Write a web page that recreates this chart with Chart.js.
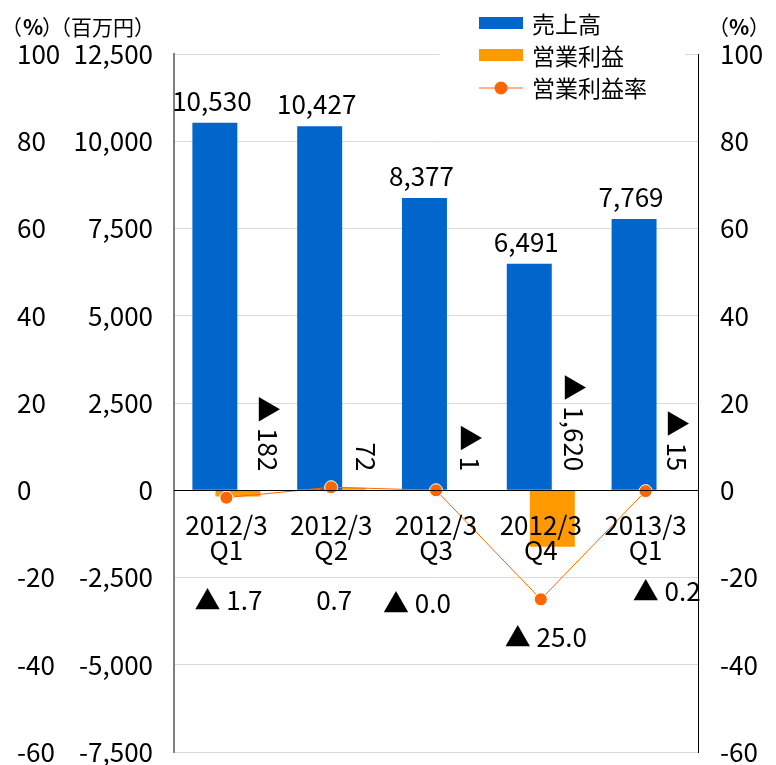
<!DOCTYPE html>
<html lang="ja">
<head>
<meta charset="utf-8">
<title>売上高・営業利益・営業利益率</title>
<script src="https://cdn.jsdelivr.net/npm/chart.js@4/dist/chart.umd.min.js"></script>
<style>
  html, body { margin: 0; padding: 0; background: #fff; }
  #wrap { width: 776px; height: 765px; position: relative; }
</style>
</head>
<body>
<div id="wrap"><canvas id="salesChart" width="776" height="765"></canvas></div>
<script>
// values
const quarters = [['2012/3', 'Q1'], ['2012/3', 'Q2'], ['2012/3', 'Q3'], ['2012/3', 'Q4'], ['2013/3', 'Q1']];
const sales = [10530, 10427, 8377, 6491, 7769];            // 売上高 (百万円)
const operatingProfit = [-182, 72, -1, -1620, -15];        // 営業利益 (百万円)
const operatingMargin = [-1.7, 0.7, -0.01, -25.0, -0.2];   // 営業利益率 (%)
const yenRange = [-7500, 12500, 2500];
const pctRange = [-60, 100, 20];

// label placement (px from category centre / zero line)
const profitLabelDx = [41, 35, 34, 33, 31];
const marginLabelPos = [[2, 110], [3, 110], [-19, 113], [5, 147], [21, 101]];

const BLUE = '#0066CC';
const ORANGE = '#FF9900';
const LINE = '#FF6600';
const FONT = '"Noto Sans CJK JP", "Noto Sans", sans-serif';
const TICK_SIZE = 26;

Chart.defaults.font.family = FONT;
Chart.defaults.color = '#000';

// negative numbers are written with ▲
function fmt(v, digits) {
    const s = Math.abs(v).toLocaleString('en-US', { minimumFractionDigits: digits, maximumFractionDigits: digits });
    return v < 0 ? '▲ ' + s : s;
}

const valueLabels = {
    id: 'valueLabels',
    afterDatasetsDraw(chart) {
        const ctx = chart.ctx;
        const x = chart.scales.x;
        const zero = chart.scales.y.getPixelForValue(0);
        ctx.save();
        ctx.fillStyle = '#000';
        ctx.font = TICK_SIZE + 'px ' + FONT;

        // 売上高 above bars
        const salesMeta = chart.getDatasetMeta(0);
        ctx.textAlign = 'center';
        ctx.textBaseline = 'middle';
        salesMeta.data.forEach((bar, i) => {
            ctx.fillText(fmt(sales[i], 0), bar.x - 3, bar.y - 22);
        });

        // 営業利益, turned on its side
        operatingProfit.forEach((v, i) => {
            const cx = x.getPixelForValue(i) + profitLabelDx[i];
            ctx.save();
            ctx.translate(cx, zero - 19);
            ctx.rotate(Math.PI / 2);
            ctx.textAlign = 'right';
            ctx.textBaseline = 'middle';
            ctx.fillText(fmt(v, 0), 0, 0);
            ctx.restore();
        });

        // 営業利益率
        ctx.textAlign = 'center';
        operatingMargin.forEach((v, i) => {
            const p = marginLabelPos[i];
            ctx.fillText(fmt(v, 1), x.getPixelForValue(i) + p[0], zero + p[1]);
        });
        ctx.restore();
    }
};

const legendAndUnits = {
    id: 'legendAndUnits',
    afterDraw(chart) {
        const ctx = chart.ctx;
        ctx.save();
        ctx.fillStyle = '#fff';
        ctx.fillRect(440, 0, 245, 104);

        ctx.font = '23px ' + FONT;
        ctx.textBaseline = 'middle';
        ctx.textAlign = 'left';
        const items = chart.data.datasets;
        // bars
        ctx.fillStyle = BLUE;
        ctx.fillRect(479, 17, 44, 12);
        ctx.fillStyle = ORANGE;
        ctx.fillRect(479, 49, 44, 12);
        // line with dot
        ctx.strokeStyle = '#FF9966';
        ctx.lineWidth = 1.5;
        ctx.beginPath();
        ctx.moveTo(479, 88);
        ctx.lineTo(523, 88);
        ctx.stroke();
        ctx.fillStyle = LINE;
        ctx.beginPath();
        ctx.arc(501, 88, 6.5, 0, Math.PI * 2);
        ctx.fill();

        ctx.fillStyle = '#000';
        ctx.fillText(items[0].label, 532, 24);
        ctx.fillText(items[1].label, 532, 56);
        ctx.fillText(items[2].label, 532, 88);

        // unit captions
        ctx.font = '21px ' + FONT;
        ctx.fillText('（', 1, 27);
        ctx.fillText('）', 42, 27);
        ctx.fillText('（百万円）', 50, 27);
        ctx.fillText('（', 708, 27);
        ctx.fillText('）', 749, 27);
        ctx.font = 'bold 21px ' + FONT;
        ctx.fillText('%', 23, 27);
        ctx.fillText('%', 729, 27);
        ctx.restore();
    }
};

new Chart(document.getElementById('salesChart'), {
    type: 'bar',
    data: {
        labels: quarters,
        datasets: [
            {
                label: '売上高',
                data: sales,
                backgroundColor: BLUE,
                yAxisID: 'y',
                order: 1,
                categoryPercentage: 0.44,
                barPercentage: 1.95
            },
            {
                label: '営業利益',
                data: operatingProfit,
                backgroundColor: ORANGE,
                yAxisID: 'y',
                order: 2,
                categoryPercentage: 0.44,
                barPercentage: 1.95
            },
            {
                type: 'line',
                label: '営業利益率',
                data: operatingMargin,
                yAxisID: 'yR',
                borderColor: LINE,
                borderWidth: 1,
                pointRadius: 6.5,
                pointBackgroundColor: LINE,
                pointBorderColor: '#fff',
                pointBorderWidth: 1,
                order: 0
            }
        ]
    },
    options: {
        responsive: false,
        animation: false,
        layout: { padding: { top: 54, left: 17, right: 0, bottom: 12 } },
        plugins: {
            legend: { display: false },
            tooltip: { enabled: false }
        },
        scales: {
            x: {
                position: { y: 0 },
                grid: { display: false, drawTicks: false },
                border: { display: true, color: '#000', width: 1, z: 1 },
                ticks: {
                    z: 1,
                    font: { size: TICK_SIZE, lineHeight: 0.97 },
                    padding: 22,
                    maxRotation: 0,
                    autoSkip: false
                }
            },
            y: {
                position: 'left',
                weight: 0,
                min: yenRange[0],
                max: yenRange[1],
                grid: { color: '#D9D9D9', lineWidth: 1, drawTicks: true, tickLength: 21, tickColor: 'rgba(0,0,0,0)' },
                border: { display: true, color: '#808080', width: 2 },
                ticks: {
                    stepSize: yenRange[2],
                    padding: 0,
                    font: { size: TICK_SIZE, lineHeight: 1 },
                    callback: v => v.toLocaleString('en-US')
                },
                afterFit: s => { s.width = 107; }
            },
            yPct: {
                position: 'left',
                weight: 1,
                min: pctRange[0],
                max: pctRange[1],
                grid: { display: false, drawTicks: false },
                border: { display: false },
                ticks: {
                    stepSize: pctRange[2],
                    crossAlign: 'far',
                    padding: 0,
                    font: { size: TICK_SIZE, lineHeight: 1 }
                },
                afterFit: s => { s.width = 50; }
            },
            yR: {
                position: 'right',
                min: pctRange[0],
                max: pctRange[1],
                grid: { display: true, drawOnChartArea: false, drawTicks: true, tickLength: 22, tickColor: 'rgba(0,0,0,0)' },
                border: { display: true, color: '#000', width: 1 },
                ticks: {
                    stepSize: pctRange[2],
                    padding: 0,
                    font: { size: TICK_SIZE, lineHeight: 1 }
                },
                afterFit: s => { s.width = 78; }
            }
        }
    },
    plugins: [valueLabels, legendAndUnits]
});
</script>
</body>
</html>
